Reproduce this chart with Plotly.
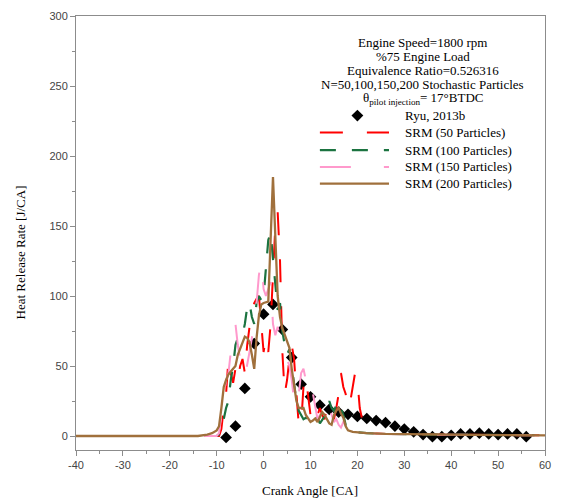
import plotly.graph_objects as go

# ---------------- data ----------------
ryu_x = list(range(-8, 57, 2))
ryu_y = [-1, 7, 34, 66, 87, 94, 76, 56, 37, 28, 22, 19, 17, 15.5, 14, 12.5, 11, 9.5, 7, 5,
         3, 1, -0.5, -0.5, 0.5, 1.5, 1.5, 2, 1.5, 1, 1.5, 1.5, -0.5]

srm50_x = [-40, -10, -9.5, -9, -8.5, -8, -7.5, -7, -6.5, -6, -5.5, -5, -4.5, -4, -3.5, -3, -2.5, -2,
           -1.5, -1, -0.5, 0, 0.5, 1, 1.5, 2, 2.5, 3, 3.5, 4, 4.5, 5, 5.5, 6, 6.5, 7, 7.5, 8, 8.5, 9,
           9.5, 10, 10.5, 11, 11.5, 12, 12.5, 13, 13.5, 14, 14.5, 15, 15.5, 16, 16.5, 17, 17.5, 18,
           18.5, 19, 19.5, 20, 20.5, 21, 21.5, 22, 23, 26, 35, 60]
srm50_y = [0, 0, 0, 5, 20, 30, 55, 45, 38, 48, 40, 50, 55, 45, 65, 78, 88, 95,
           98, 100, 80, 60, 70, 60, 80, 120, 150, 160, 125, 60, 30, 40, 55, 65, 55, 30, 8, 8, 35, 42,
           30, 15, 10, 8, 15, 20, 15, 12, 20, 22, 18, 12, 20, 30, 45, 35, 30, 20,
           25, 35, 45, 40, 20, 12, 6, 3, 2, 1.5, 1, 0.5]

srm100_x = [-40, -10, -9.5, -9, -8.5, -8, -7.5, -7, -6.5, -6, -5.5, -5, -4.5, -4, -3.5, -3, -2.5, -2,
            -1.5, -1, -0.5, 0, 0.5, 1, 1.5, 2, 2.5, 3, 3.5, 4, 4.5, 5, 5.5, 6, 6.5, 7, 7.5, 8, 8.5, 9,
            9.5, 10, 10.5, 11, 11.5, 12, 12.5, 13, 13.5, 14, 14.5, 15, 15.5, 16, 16.5, 17, 17.5, 18,
            19, 20, 22, 26, 35, 60]
srm100_y = [0, 0, 1, 5, 12, 20, 25, 40, 50, 65, 70, 72, 72, 80, 92, 95, 85, 80,
            95, 100, 97, 100, 120, 140, 145, 125, 110, 90, 95, 75, 65, 58, 62, 50, 40, 25, 18, 15, 12, 13,
            12, 10, 15, 14, 13, 9, 12, 14, 20, 25, 20, 18, 22, 25, 20, 15, 8, 4,
            3, 2.5, 2, 1.5, 1, 0.5]

srm150_x = [-40, -10, -9.5, -9, -8.5, -8, -7.5, -7, -6.5, -6, -5.5, -5, -4.5, -4, -3.5, -3, -2.5, -2,
            -1.5, -1, -0.5, 0, 0.5, 1, 1.5, 2, 2.5, 3, 3.5, 4, 4.5, 5, 5.5, 6, 6.5, 7, 7.5, 8, 8.5, 9,
            9.5, 10, 10.5, 11, 11.5, 12, 12.5, 13, 13.5, 14, 14.5, 15, 15.5, 16, 16.5, 17, 17.5, 18,
            19, 20, 22, 26, 35, 60]
srm150_y = [0, 0, 2, 15, 30, 40, 45, 60, 75, 80, 65, 55, 45, 42, 50, 60, 70, 80,
            95, 115, 125, 105, 100, 105, 110, 80, 72, 78, 70, 65, 58, 55, 50, 40, 25, 20, 30, 45, 48, 40,
            35, 40, 30, 20, 12, 15, 20, 18, 22, 25, 15, 10, 12, 8, 6, 10, 8, 4,
            3, 2.5, 2, 1.5, 1, 0.5]

srm200_x = [-40, -14, -12, -11, -10, -9.5, -9, -8.5, -8, -7.5, -7, -6.5, -6, -5.5, -5, -4.5, -4,
            -3.5, -3, -2.5, -2, -1.5, -1, -0.5, 0, 1, 2, 3, 3.5, 4, 4.5, 5, 5.5, 6, 6.5, 7, 7.5, 8,
            8.5, 9, 9.5, 10, 10.5, 11, 11.5, 12, 12.5, 13, 13.5, 14, 14.5, 15, 15.5, 16, 16.5, 17,
            17.5, 18, 19, 20, 22, 26, 35, 45, 60]
srm200_y = [0, 0, 1, 2, 4, 7, 20, 35, 40, 44, 46, 48, 50, 58, 62, 66, 71,
            70, 67, 58, 48, 70, 86, 94, 95, 96, 185, 100, 85, 77, 72, 68, 63, 48, 35, 25, 20, 20,
            20, 15, 12, 10, 11, 12.5, 10, 13, 17, 15, 12, 9, 8, 15, 18, 20, 16, 13,
            7, 4, 3, 2.5, 2, 1.5, 1, 0.8, 0.5]

x_tickvals = [-40, -30, -20, -10, 0, 10, 20, 30, 40, 50, 60]
x_ticktext = ["-40", "-30", "-20", "-10", "0", "10", "20", "30", "40", "50", "60"]
y_tickvals = [0, 50, 100, 150, 200, 250, 300]
y_ticktext = ["0", "50", "100", "150", "200", "250", "300"]

info_lines = ["Engine Speed=1800 rpm", "%75 Engine Load", "Equivalence Ratio=0.526316",
              "N=50,100,150,200 Stochastic Particles",
              "θ<sub>pilot injection</sub>= 17°BTDC"]
legend_names = ["Ryu, 2013b", "SRM (50 Particles)", "SRM (100 Particles)",
                "SRM (150 Particles)", "SRM (200 Particles)"]

# ---------------- styles ----------------
SERIF = "Liberation Serif, Times New Roman, serif"
SANS = "Liberation Sans, Arial, sans-serif"
RED = "#FF0000"
GREEN = "#1B7340"
PINK = "#FF99CC"
BROWN = "#A0703C"

fig = go.Figure()
fig.add_trace(go.Scatter(x=ryu_x, y=ryu_y, mode="markers", name=legend_names[0],
                         marker=dict(symbol="diamond", size=9, color="black")))
fig.add_trace(go.Scatter(x=srm50_x, y=srm50_y, mode="lines", name=legend_names[1],
                         line=dict(color=RED, width=2, dash="23px,24px")))
fig.add_trace(go.Scatter(x=srm100_x, y=srm100_y, mode="lines", name=legend_names[2],
                         line=dict(color=GREEN, width=2.2, dash="16px,16px")))
fig.add_trace(go.Scatter(x=srm150_x, y=srm150_y, mode="lines", name=legend_names[3],
                         line=dict(color=PINK, width=2, dash="31px,33px")))
fig.add_trace(go.Scatter(x=srm200_x, y=srm200_y, mode="lines", name=legend_names[4],
                         line=dict(color=BROWN, width=2.3)))

# plot area geometry (pixels) for paper-coordinate helpers
L, R, T, B = 76, 551, 10, 450
def px(xp):
    return (xp - L) / (R - L)
def py(yp):
    return (B - yp) / (B - T)

annotations = []
info_y = [37, 51, 65, 79, 94]
for txt, yy in zip(info_lines, info_y):
    annotations.append(dict(text=txt, x=px(427), y=py(yy), xref="paper", yref="paper",
                            xanchor="center", yanchor="middle", showarrow=False,
                            font=dict(family=SERIF, size=13, color="black")))
leg_y = [111, 128, 146, 163, 180]
for txt, yy in zip(legend_names, leg_y):
    annotations.append(dict(text=txt, x=px(407), y=py(yy), xref="paper", yref="paper",
                            xanchor="left", yanchor="middle", showarrow=False,
                            font=dict(family=SERIF, size=13, color="black")))
annotations.append(dict(text="Heat Release Rate [J/CA]", x=px(20), y=py(250), xref="paper",
                        yref="paper", textangle=-90, showarrow=False, xanchor="center",
                        yanchor="middle", font=dict(family=SERIF, size=13, color="black")))
annotations.append(dict(text="Crank Angle [CA]", x=px(313), y=py(491), xref="paper",
                        yref="paper", showarrow=False, xanchor="center", yanchor="middle",
                        font=dict(family=SERIF, size=13, color="black")))

shapes = []
styles = [(RED, 2, "23px,24px"), (GREEN, 2.2, "16px,16px"), (PINK, 2, "31px,33px"), (BROWN, 2.3, "solid")]
for (c, w, d), yy in zip(styles, leg_y[1:]):
    shapes.append(dict(type="line", xref="paper", yref="paper", x0=px(323), x1=px(393),
                       y0=py(yy), y1=py(yy), line=dict(color=c, width=w, dash=d)))
cx, cy, h = 361, 111, 6
shapes.append(dict(type="path", xref="paper", yref="paper",
                   path=f"M {px(cx)},{py(cy-h)} L {px(cx+h)},{py(cy)} L {px(cx)},{py(cy+h)} L {px(cx-h)},{py(cy)} Z",
                   fillcolor="black", line=dict(color="black", width=0)))

axis_common = dict(showline=True, linecolor="#8c8c8c", linewidth=1, mirror=True,
                   showgrid=False, zeroline=False, ticks="outside", ticklen=5,
                   tickcolor="#8c8c8c", tickfont=dict(family=SANS, size=11, color="#444444"))
fig.update_layout(
    width=561, height=502,
    margin=dict(l=L, r=561 - R, t=T, b=502 - B),
    plot_bgcolor="white", paper_bgcolor="white",
    showlegend=False,
    xaxis=dict(range=[-40, 60], tickmode="array", tickvals=x_tickvals, ticktext=x_ticktext,
               minor=dict(tickmode="linear", tick0=-40, dtick=5, ticks="outside", ticklen=3,
                          tickcolor="#8c8c8c"),
               **axis_common),
    yaxis=dict(range=[-10, 300], tickmode="array", tickvals=y_tickvals, ticktext=y_ticktext,
               minor=dict(tickmode="linear", tick0=0, dtick=25, ticks="outside", ticklen=3,
                          tickcolor="#8c8c8c"),
               **axis_common),
    annotations=annotations,
    shapes=shapes,
)
fig.write_html("out.html")
